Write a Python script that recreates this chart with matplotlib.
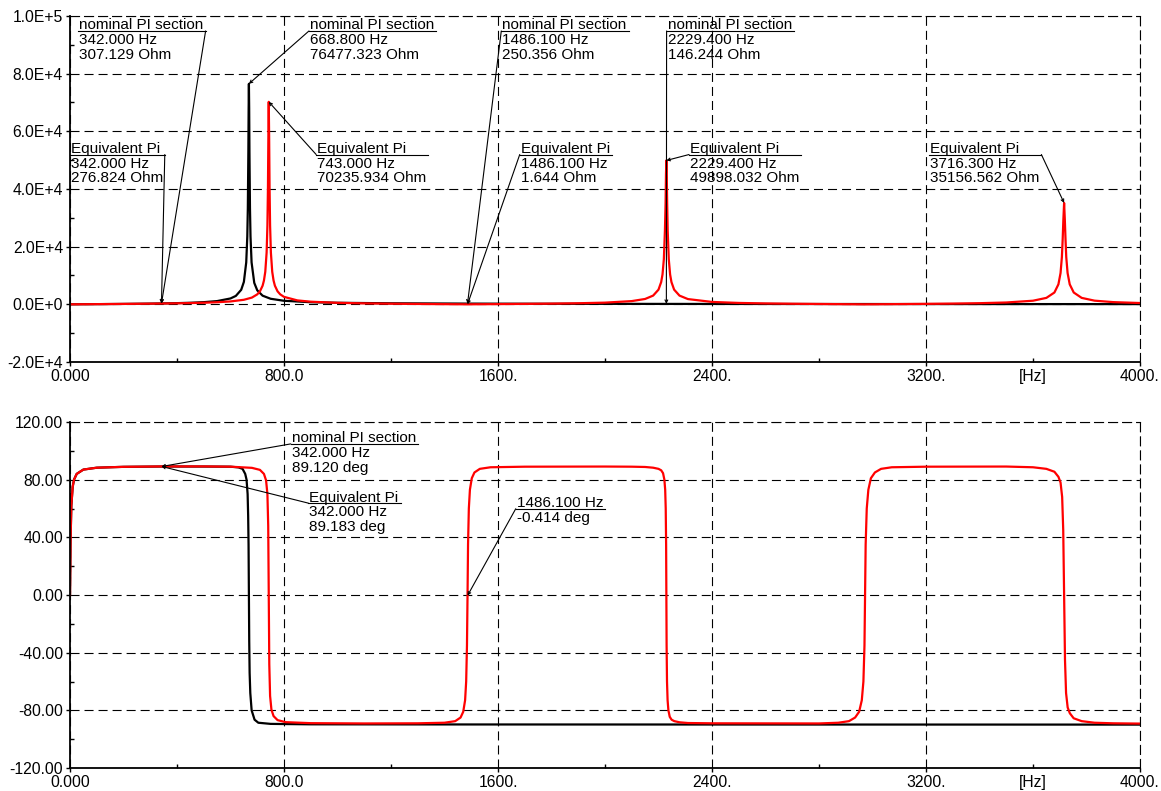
import matplotlib.pyplot as plt
from matplotlib.ticker import MultipleLocator

plt.rcParams['font.family'] = ['Liberation Sans', 'DejaVu Sans']
plt.rcParams['lines.scale_dashes'] = False

# |Z| of the nominal PI section (black), Ohm
f_nom_mag = [0, 100, 200, 300, 342, 400, 450, 500, 550, 600,
             620, 640, 650, 658.8, 662.8, 664.8, 666.8, 667.8, 668.8, 669.8,
             670.8, 672.8, 674.8, 678.8, 688.8, 700, 720, 750, 800, 900,
             1000, 1200, 1486.1, 1800, 2229.4, 2600, 3000, 3500, 4000]
z_nom = [0, 68, 146, 249, 307, 413, 545, 751, 1127, 2039,
         2923, 5040, 7780, 14550, 23500, 33320, 53200, 68000, 76477, 68000,
         53200, 33320, 23500, 14550, 7450, 4860, 3003, 1930, 1231, 736,
         537, 359, 250, 191, 146, 122, 104, 88, 76]

# |Z| of the equivalent Pi (red), Ohm
f_eq_mag = [0, 100, 200, 300, 342, 400, 450, 500, 550, 600,
            650, 680, 700, 710, 720, 725, 730, 735, 738, 740,
            741.5, 743, 744.5, 746, 748, 751, 756, 761, 766, 776,
            786, 800, 850, 900, 1000, 1100, 1200, 1300, 1400, 1486.1,
            1600, 1700, 1800, 1900, 2000, 2100, 2150, 2180, 2200, 2210,
            2215, 2220, 2224, 2226.5, 2228, 2229.4, 2231, 2232.4, 2234.4, 2238.4,
            2243.4, 2248.4, 2258.4, 2278.4, 2310, 2400, 2500, 2600, 2700, 2800,
            2900, 2972.2, 3100, 3200, 3300, 3400, 3500, 3600, 3650, 3680,
            3695, 3703, 3708, 3711, 3713.5, 3716.3, 3719, 3721.5, 3724.3, 3729.3,
            3737.3, 3752.3, 3782, 3830, 3900, 4000]
z_eq = [0, 67, 141, 231, 277, 353, 441, 552, 727, 1007,
        1576, 2343, 3454, 4500, 6458, 8250, 11280, 17950, 27350, 40470,
        57280, 70236, 57280, 40470, 27350, 17950, 11280, 8250, 6458, 4500,
        3454, 2594, 1363, 912, 520, 334, 217, 130, 58, 1.6,
        77, 153, 246, 376, 588, 1123, 1862, 3031, 5095, 7723,
        10370, 15650, 25480, 35110, 45150, 49898, 43940, 35110, 25480, 15650,
        10370, 7723, 5095, 3031, 1824, 833, 487, 316, 204, 120,
        48, 2, 87, 165, 261, 398, 638, 1255, 2236, 4098,
        6934, 10865, 16410, 22680, 29300, 35156, 29300, 22680, 16410, 10865,
        6934, 4098, 2236, 1275, 767, 455]

# phase, deg
f_nom_ph = [0, 2, 5, 10, 15, 25, 50, 100, 200, 342,
            500, 600, 630, 645, 655, 660, 664, 666, 667.5, 668.8,
            670, 671.5, 674, 679, 690, 704, 750, 900, 1500, 4000]
ph_nom = [0, 37, 62, 75, 80, 84, 87, 88.3, 88.9, 89.12,
          89.1, 89.0, 88.5, 87.5, 84, 80, 70, 55, 35, 0,
          -32, -54, -68, -80, -86.5, -88.6, -89.4, -89.7, -89.8, -89.9]

f_eq_ph = [0, 2, 5, 10, 15, 25, 50, 100, 200, 342,
           500, 600, 680, 710, 725, 733, 738, 741, 743, 745,
           748, 753, 761, 776, 806, 900, 1100, 1300, 1400, 1440,
           1460, 1470, 1477, 1481, 1484, 1486.1, 1488, 1491, 1495, 1502,
           1512, 1532, 1572, 1700, 2000, 2100, 2150, 2180, 2200, 2210,
           2217, 2222, 2225, 2227, 2228.5, 2229.4, 2230.3, 2231.8, 2234, 2237,
           2242, 2249, 2259, 2279, 2310, 2400, 2800, 2872, 2912, 2935,
           2950, 2960, 2966, 2970, 2972.2, 2974.4, 2978.5, 2984.5, 2994, 3009,
           3032, 3072, 3200, 3500, 3600, 3650, 3680, 3695, 3703, 3709,
           3713, 3716.3, 3719.6, 3723.6, 3729.6, 3737.6, 3752, 3782, 3830, 3900,
           4000]
ph_eq = [0, 37, 62, 75, 80, 84, 87, 88.3, 88.9, 89.18,
         89.2, 89.0, 88.2, 86.8, 84, 79.5, 70, 48, 0, -48,
         -70, -79.5, -84, -86.8, -88.2, -88.9, -89.1, -89.0, -88.6, -87.5,
         -85, -81, -73, -60, -35, -0.414, 35, 60, 73, 81,
         85, 87.5, 88.6, 89.0, 89.1, 89.0, 88.8, 88.3, 87.5, 86.5,
         84.5, 80, 73, 60, 35, 0, -35, -60, -73, -80,
         -84.5, -86.5, -87.5, -88.3, -88.8, -89.0, -89.1, -88.6, -87.5, -85,
         -81, -73, -60, -35, 0, 35, 60, 73, 81, 85,
         87.5, 88.6, 89.0, 89.1, 88.6, 87.5, 85.5, 82, 78, 68,
         45, 0, -45, -68, -78, -82, -85.5, -87.5, -88.6, -89.0,
         -89.2]

x_ticks = [0, 800, 1600, 2400, 3200, 4000]
x_labels = ['0.000', '800.0', '1600.', '2400.', '3200.', '4000.']
x_minor = [400, 1200, 2000, 2800, 3600]
x_minor_labels = ['', '', '', '', '[Hz]']
mag_ticks = [-20000, 0, 20000, 40000, 60000, 80000, 100000]
mag_labels = ['-2.0E+4', '0.0E+0', '2.0E+4', '4.0E+4', '6.0E+4', '8.0E+4', '1.0E+5']
ph_ticks = [-120, -80, -40, 0, 40, 80, 120]
ph_labels = ['-120.00', '-80.00', '-40.00', '0.00', '40.00', '80.00', '120.00']

# cursor labels: text lines, text anchor (left, top), marked point, leader side
mag_notes = [
    (['nominal PI section', '342.000 Hz', '307.129 Ohm'], (35, 99150), (342.0, 307.129), 'r'),
    (['Equivalent Pi', '342.000 Hz', '276.824 Ohm'], (2, 56300), (342.0, 276.824), 'r'),
    (['nominal PI section', '668.800 Hz', '76477.323 Ohm'], (897, 99150), (668.8, 76477.323), 'l'),
    (['Equivalent Pi', '743.000 Hz', '70235.934 Ohm'], (924, 56300), (743.0, 70235.934), 'l'),
    (['nominal PI section', '1486.100 Hz', '250.356 Ohm'], (1616, 99150), (1486.1, 250.356), 'l'),
    (['Equivalent Pi', '1486.100 Hz', '1.644 Ohm'], (1685, 56300), (1486.1, 1.644), 'l'),
    (['nominal PI section', '2229.400 Hz', '146.244 Ohm'], (2234, 99150), (2229.4, 146.244), 'l'),
    (['Equivalent Pi', '2229.400 Hz', '49898.032 Ohm'], (2318, 56300), (2229.4, 49898.032), 'l'),
    (['Equivalent Pi', '3716.300 Hz', '35156.562 Ohm'], (3215, 56300), (3716.3, 35156.562), 'r'),
]
ph_notes = [
    (['nominal PI section', '342.000 Hz', '89.120 deg'], (829, 113.5), (342.0, 89.120), 'l'),
    (['Equivalent Pi', '342.000 Hz', '89.183 deg'], (895, 72.4), (342.0, 89.183), 'l'),
    (['1486.100 Hz', '-0.414 deg'], (1670, 68.5), (1486.1, -0.414), 'l'),
]

FS_TICK = 11.3
FS_NOTE = 11.0
DASH = (0, (6.5, 3.6))

fig = plt.figure(figsize=(11.61, 7.91), dpi=100)
ax1 = fig.add_axes([70 / 1161, 1 - 362 / 791, 1070 / 1161, 346 / 791])
ax2 = fig.add_axes([70 / 1161, 1 - 768 / 791, 1070 / 1161, 346 / 791])


def style(ax, yticks, ylabels, ystep):
    ax.set_xlim(0, 4000)
    ax.set_ylim(yticks[0], yticks[-1])
    ax.set_xticks(x_ticks)
    ax.set_xticklabels(x_labels)
    ax.set_xticks(x_minor, minor=True)
    ax.set_xticklabels(x_minor_labels, minor=True)
    ax.set_yticks(yticks)
    ax.set_yticklabels(ylabels)
    ax.yaxis.set_minor_locator(MultipleLocator(ystep / 2))
    ax.grid(True, which='major', color='black', lw=0.8, linestyle=DASH)
    ax.tick_params(which='major', direction='out', length=3, width=1, labelsize=FS_TICK, pad=2)
    ax.tick_params(which='minor', direction='in', length=3, width=1, labelsize=FS_TICK, pad=5)
    for s in ('left', 'bottom'):
        ax.spines[s].set_linewidth(1.3)
    for s in ('top', 'right'):
        ax.spines[s].set_linewidth(0.8)
        ax.spines[s].set_linestyle(DASH)


style(ax1, mag_ticks, mag_labels, 20000)
style(ax2, ph_ticks, ph_labels, 40)

ax1.plot(f_nom_mag, z_nom, color='black', lw=1.6)
ax1.plot(f_eq_mag, z_eq, color='red', lw=1.6)
ax2.plot(f_nom_ph, ph_nom, color='black', lw=1.6)
ax2.plot(f_eq_ph, ph_eq, color='red', lw=1.6)

notes = []
for ax, group in ((ax1, mag_notes), (ax2, ph_notes)):
    for lines, (tx, ty), pt, side in group:
        t = ax.text(tx, ty, '\n'.join(lines), ha='left', va='top',
                    fontsize=FS_NOTE, linespacing=1.06)
        notes.append((ax, t, pt, side))

# underline the first line of each label and draw the leader to the point
fig.canvas.draw()
renderer = fig.canvas.get_renderer()
em = FS_NOTE * fig.dpi / 72
for ax, t, pt, side in notes:
    bb = t.get_window_extent(renderer)
    yu = bb.y1 - 0.82 * em
    inv = ax.transData.inverted()
    x0, y0 = inv.transform((bb.x0 - 1, yu))
    x1, _ = inv.transform((bb.x1 + 2, yu))
    ax.plot([x0, x1], [y0, y0], color='black', lw=0.8)
    start = x0 if side == 'l' else x1
    ax.annotate('', xy=pt, xytext=(start, y0),
                arrowprops=dict(arrowstyle='->', color='black', lw=0.8,
                                shrinkA=0, shrinkB=0, mutation_scale=5))

fig.savefig('out.png', dpi=100)
